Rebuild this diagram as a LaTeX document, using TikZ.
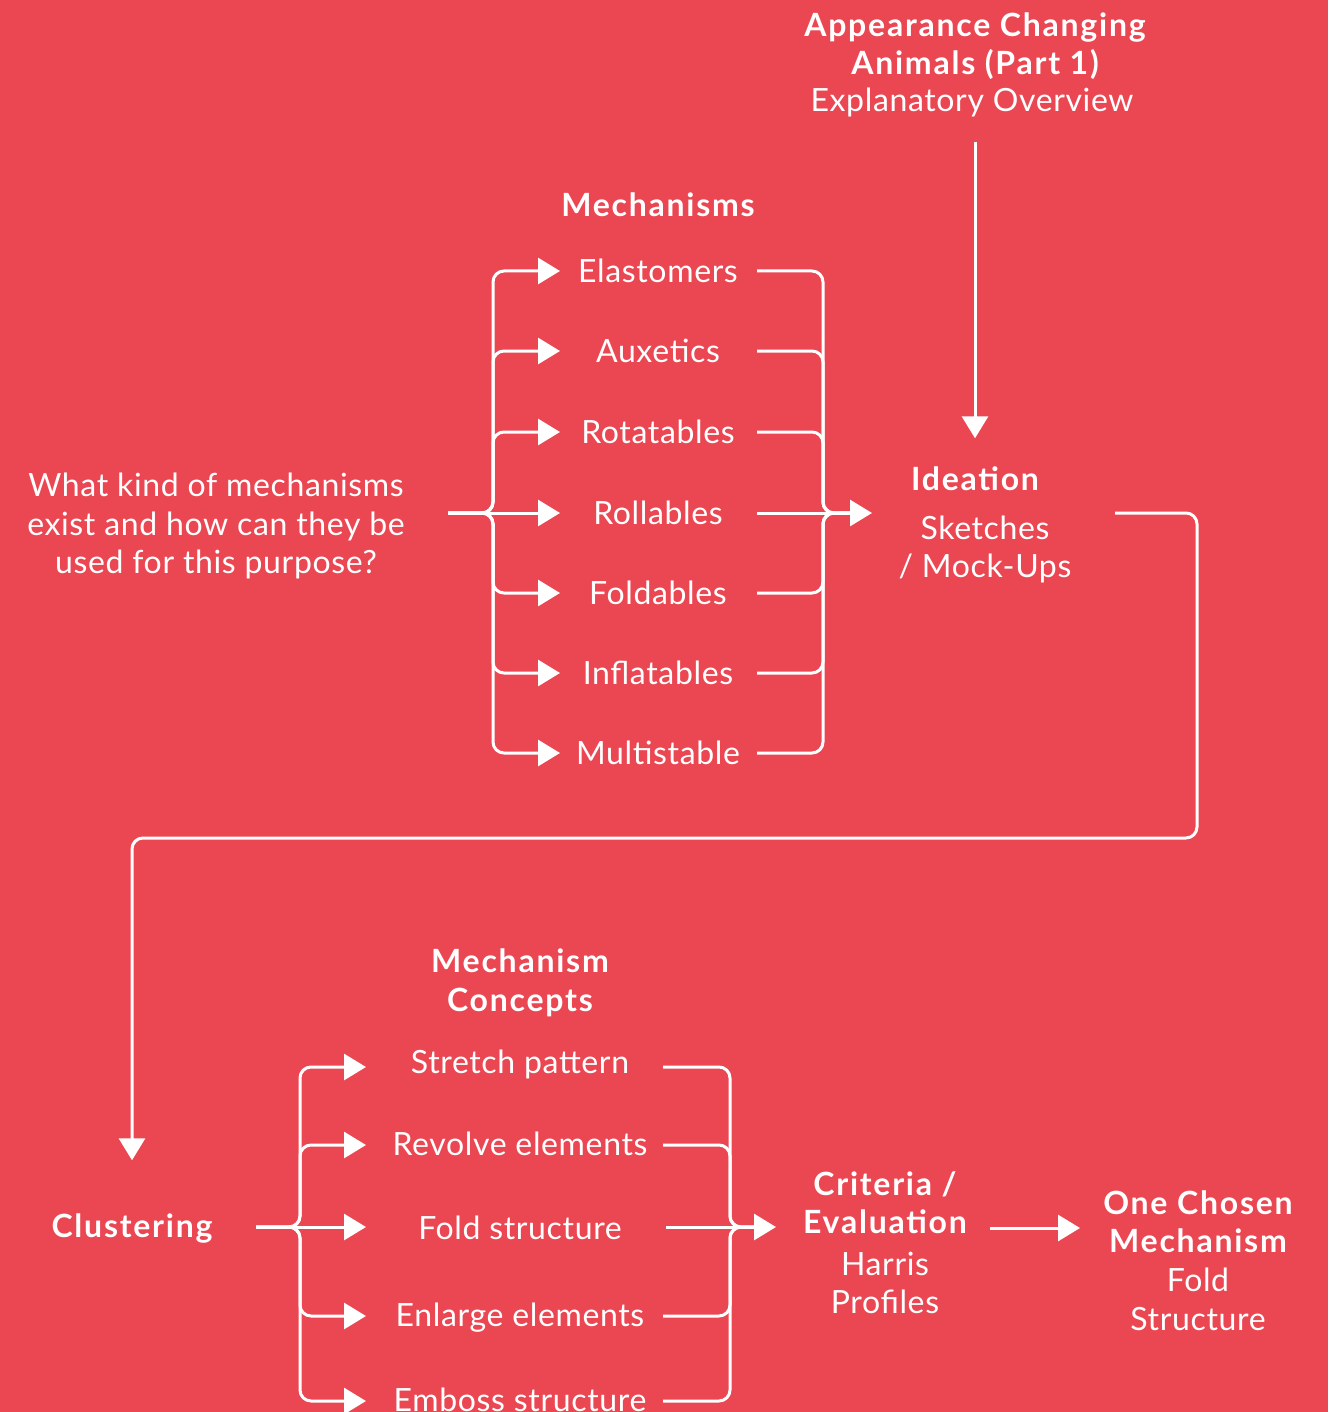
\documentclass[tikz,border=0pt]{standalone}
\usepackage{fontspec}
\setmainfont{Lato}[LetterSpace=2, BoldFeatures={LetterSpace=5.5}]
\usetikzlibrary{arrows.meta,calc}
\definecolor{bgred}{RGB}{235,71,82}
\begin{document}
\begin{tikzpicture}[x=1pt,y=-1pt,
  txt/.style={text=white, font=\fontsize{32}{38}\selectfont, inner sep=0pt,
    text height=23pt, text depth=0pt, anchor=center},
  hd/.style={txt, font=\fontsize{32}{38}\selectfont\bfseries},
  link/.style={draw=white, line width=3pt, rounded corners=11pt},
  tip/.style={-{Triangle[length=22pt,width=26pt]}}]
\fill[bgred] (0,0) rectangle (1328,1412);
\useasboundingbox (0,0) rectangle (1328,1412);

% --- title
\node[hd] (t1) at (975,25) {Appearance Changing};
\node[hd] (t2) at (975,63) {Animals (Part 1)};
\node[txt] (t3) at (972,100) {Explanatory Overview};

% --- question
\node[txt] (q1) at (216,485) {What kind of mechanisms};
\node[txt] (q2) at (216,524) {exist and how can they be};
\node[txt] (q3) at (216,562) {used for this purpose?};

% --- mechanisms
\node[hd] (mh) at (658,205) {Mechanisms};
\node[txt] (m1) at (658,271) {Elastomers};
\node[txt] (m2) at (658,351) {Auxetics};
\node[txt] (m3) at (658,432) {Rotatables};
\node[txt] (m4) at (658,513) {Rollables};
\node[txt] (m5) at (658,593) {Foldables};
\node[txt] (m6) at (658,673) {Inflatables};
\node[txt] (m7) at (658,753) {Multistable};

% --- ideation
\node[hd] (i1) at (975,479) {Ideation};
\node[txt] (i2) at (985,528) {Sketches};
\node[txt] (i3) at (985,566) {/ Mock-Ups};

% --- clustering and concepts
\node[hd] (cl) at (132,1226) {Clustering};
\node[hd] (ch1) at (520,961) {Mechanism};
\node[hd] (ch2) at (520,1000) {Concepts};
\node[txt] (c1) at (520,1062) {Stretch pattern};
\node[txt] (c2) at (520,1144) {Revolve elements};
\node[txt] (c3) at (520,1228) {Fold structure};
\node[txt] (c4) at (520,1315) {Enlarge elements};
\node[txt] (c5) at (520,1400) {Emboss structure};

% --- evaluation and result
\node[hd] (e1) at (885,1184) {Criteria /};
\node[hd] (e2) at (885,1222) {Evaluation};
\node[txt] (e3) at (885,1264) {Harris};
\node[txt] (e4) at (885,1302) {Profiles};
\node[hd] (r1) at (1198,1203) {One Chosen};
\node[hd] (r2) at (1198,1241) {Mechanism};
\node[txt] (r3) at (1198,1280) {Fold};
\node[txt] (r4) at (1198,1319) {Structure};

% --- connector points
\coordinate (qout) at (448,513);
\coordinate (lj) at (493,513);
\coordinate (ltip) at (560,0);
\coordinate (rst) at (757,0);
\coordinate (rj) at (823,513);
\coordinate (rin) at (872,513);
\coordinate (iout) at (1115,513);
\coordinate (cout) at (256,1227);
\coordinate (lj2) at (300,1227);
\coordinate (ltip2) at (366,0);
\coordinate (rst2) at (663,0);
\coordinate (rj2) at (730,1227);
\coordinate (rin2) at (776,1227);
\coordinate (eout) at (990,1228);
\coordinate (rin3) at (1080,1228);
% concept branch heights
\coordinate (y1) at (0,1067);
\coordinate (y2) at (0,1145);
\coordinate (y4) at (0,1316);
\coordinate (y5) at (0,1401);

% title down to ideation
\draw[link,tip,shorten <=30pt,shorten >=29pt] (i1.north |- t3.south) -- (i1.north);

% question fans out to each mechanism
\draw[link] (qout) -- (lj);
\foreach \m in {m1,m2,m3,m5,m6,m7}{
  \draw[link,tip] (qout) -- (lj) |- (ltip |- \m);
}
\draw[link,tip] (lj) -- (ltip |- m4);

% mechanisms gather into ideation
\foreach \m in {m1,m2,m3,m5,m6,m7}{
  \draw[link] (rst |- \m) -| (rj) -- ($(rj)+(30,0)$);
}
\draw[link,tip] (rst |- m4) -- (rin);

% ideation around to clustering
\draw[link,tip,shorten >=54pt] (iout) -- (1197,513) -- (1197,838) -- (cl.north |- 0,838) -- (cl.north);

% clustering fans out to each concept
\draw[link] (cout) -- (lj2);
\foreach \c in {y1,y2,y4,y5}{
  \draw[link,tip] (cout) -- (lj2) |- (ltip2 |- \c);
}
\draw[link,tip] (lj2) -- (ltip2 |- cout);

% concepts gather into evaluation
\foreach \c in {y1,y2,y4,y5}{
  \draw[link] (rst2 |- \c) -| (rj2) -- ($(rj2)+(25,0)$);
}
\draw[link,tip] (rst2 |- rj2) ++(3,0) -- (rin2);

% evaluation to the chosen mechanism
\draw[link,tip] (eout) -- (rin3);
\end{tikzpicture}
\end{document}
